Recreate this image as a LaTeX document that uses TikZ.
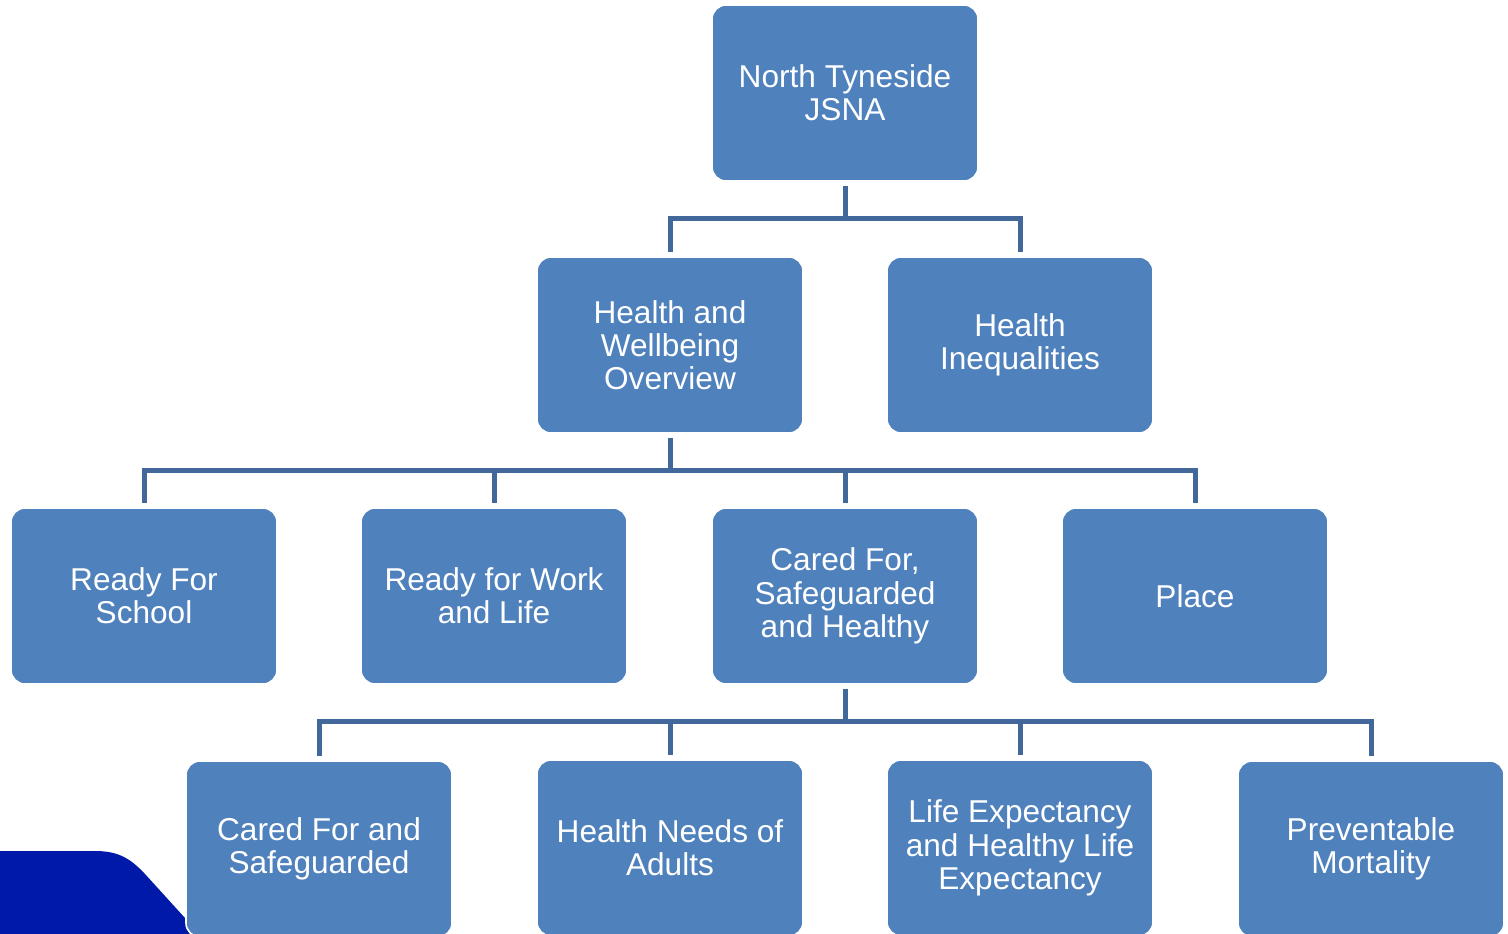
\documentclass[tikz,border=0pt]{standalone}
\usepackage{fontspec}
\setmainfont{Liberation Sans}
\usetikzlibrary{positioning}

\definecolor{boxblue}{HTML}{4F81BD}
\definecolor{linkblue}{HTML}{41679B}
\definecolor{deepblue}{HTML}{0019A8}

\tikzset{
	topic/.style={draw=white, line width=0.8pt, fill=boxblue, rounded corners=7pt,
		minimum width=133pt, minimum height=88pt, align=center, text=white,
		font=\fontsize{15.8}{16.6}\selectfont},
	link/.style={draw=linkblue, line width=2.5pt, shorten <=2pt}
}

\begin{document}
\begin{tikzpicture}[x=0.5pt, y=-0.5pt]
	\useasboundingbox (0,0) rectangle (1508,933);

	% dark corner shape
	\fill [deepblue] (0,851) -- (95,851) .. controls (118,851) and (130,858) .. (145,874) -- (205,940) -- (0,940) -- cycle;

	% boxes
	\node [topic] (jsna) at (845,93) {North Tyneside\\JSNA};

	\node [topic] (overview) at (670,345) {Health and\\Wellbeing\\Overview};
	\node [topic] (inequal) at (1020,345) {Health\\Inequalities};

	\node [topic] (school) at (144,596) {Ready For\\School};
	\node [topic] (work) at (494,596) {Ready for Work\\and Life};
	\node [topic] (cared) at (845,596) {Cared For,\\Safeguarded\\and Healthy};
	\node [topic] (place) at (1195,596) {Place};

	\node [topic] (safe) at (319,849) {Cared For and\\Safeguarded};
	\node [topic] (adults) at (670,848) {Health Needs of\\Adults};
	\node [topic] (life) at (1020,848) {Life Expectancy\\and Healthy Life\\Expectancy};
	\node [topic] (mort) at (1371,849) {Preventable\\Mortality};

	% junctions
	\coordinate (J1) at (845,218);
	\coordinate (J2) at (670,470);
	\coordinate (J3) at (845,721);

	% connectors
	\draw [link] (jsna) -- (J1);
	\draw [link] (overview) |- (J1);
	\draw [link] (inequal) |- (J1);

	\draw [link] (overview) -- (J2);
	\foreach \n in {school, work, cared, place}
		\draw [link] (\n) |- (J2);

	\draw [link] (cared) -- (J3);
	\foreach \n in {safe, adults, life, mort}
		\draw [link] (\n) |- (J3);
\end{tikzpicture}
\end{document}
